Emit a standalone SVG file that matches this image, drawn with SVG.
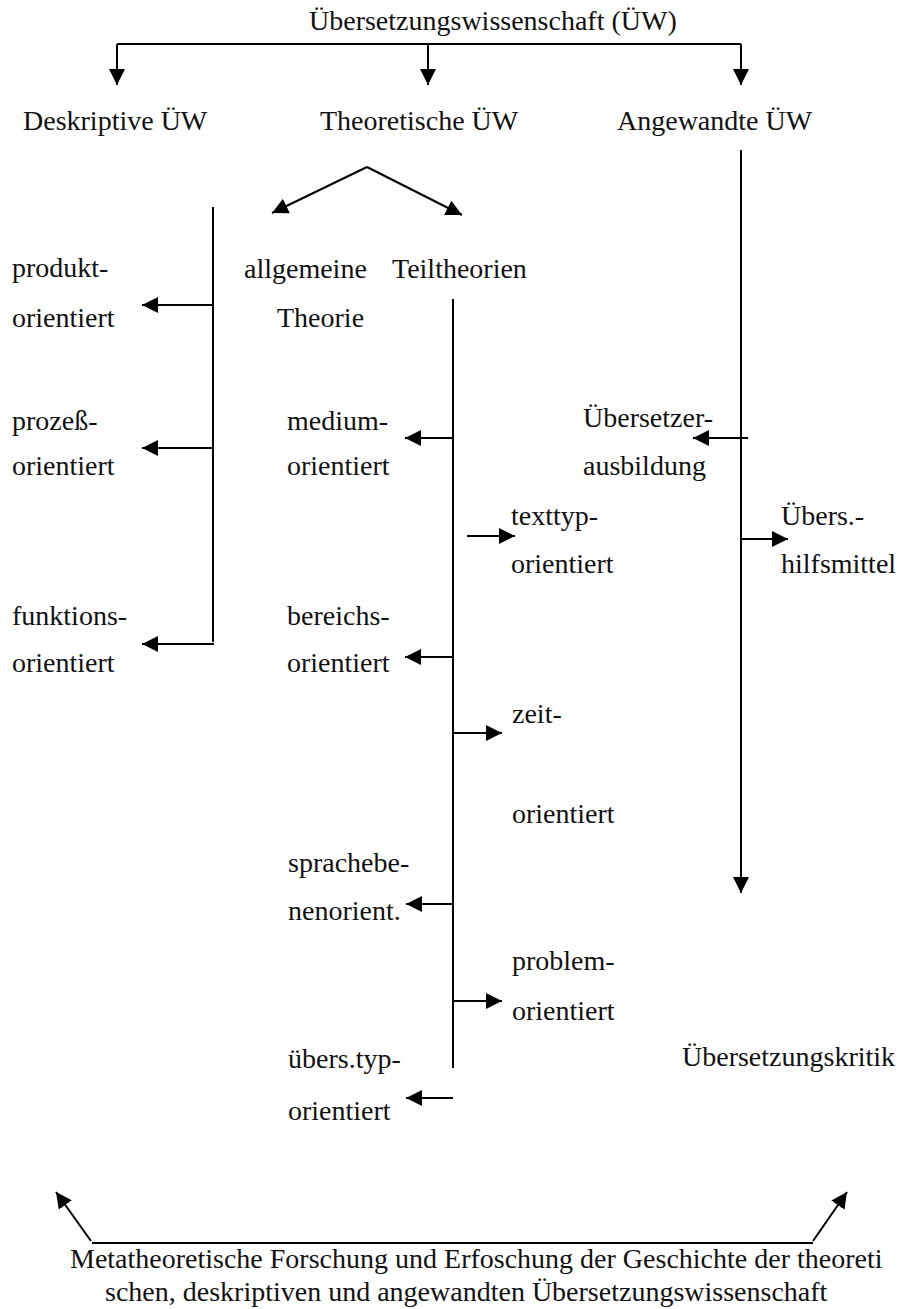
<svg xmlns="http://www.w3.org/2000/svg" width="900" height="1309" viewBox="0 0 900 1309" font-family="'Liberation Serif', 'Times New Roman', serif" font-size="28">
<style>
text{font-family:'Liberation Serif','Times New Roman',serif;font-size:28px;fill:#111}
.c path{fill:none;stroke:#000;stroke-width:2}
.a{marker-end:url(#ah)}
</style>
<defs>
<marker id="ah" markerUnits="userSpaceOnUse" markerWidth="17" markerHeight="16" refX="16" refY="8" orient="auto" viewBox="0 0 17 16">
<path d="M0,0 L16,8 L0,16 z" fill="#000"/>
</marker>
</defs>
<rect width="900" height="1309" fill="#fff"/>
<g class="c" id="connectors">
<path d="M117,44 H741"/>
<path class="a" d="M117,44 V85"/>
<path class="a" d="M428,44 V85"/>
<path class="a" d="M741,44 V85"/>
<path class="a" d="M367,167 L272,213"/>
<path class="a" d="M367,167 L462,215"/>
<path d="M213,207 V642"/>
<path class="a" d="M213,305 H142"/>
<path class="a" d="M213,448 H142"/>
<path class="a" d="M214,644 H142"/>
<path d="M453,299 V1068"/>
<path class="a" d="M453,438 H405"/>
<path class="a" d="M467,536 H515"/>
<path class="a" d="M453,657 H405"/>
<path class="a" d="M453,733 H502"/>
<path class="a" d="M453,904 H406"/>
<path class="a" d="M453,1001 H502"/>
<path class="a" d="M453,1098 H406"/>
<path class="a" d="M741,150 V893"/>
<path class="a" d="M748,438 H693"/>
<path class="a" d="M741,539 H788"/>
<path d="M92,1243 H813"/>
<path class="a" d="M91,1241 L56,1192"/>
<path class="a" d="M813,1241 L847,1192"/>
</g>
<g id="root"><text x="309" y="30">Übersetzungswissenschaft (ÜW)</text></g>
<g id="deskriptiv"><text x="23" y="130">Deskriptive ÜW</text></g>
<g id="theoretisch"><text x="320" y="130">Theoretische ÜW</text></g>
<g id="angewandt"><text x="617" y="130">Angewandte ÜW</text></g>
<g id="produkt"><text x="12" y="277">produkt-</text><text x="12" y="327">orientiert</text></g>
<g id="prozess"><text x="12" y="430">prozeß-</text><text x="12" y="475">orientiert</text></g>
<g id="funktion"><text x="12" y="625">funktions-</text><text x="12" y="672">orientiert</text></g>
<g id="allgemein"><text x="244" y="278">allgemeine</text><text x="277" y="327">Theorie</text></g>
<g id="teiltheorien"><text x="392" y="278">Teiltheorien</text></g>
<g id="medium"><text x="287" y="430">medium-</text><text x="287" y="475">orientiert</text></g>
<g id="texttyp"><text x="511" y="525">texttyp-</text><text x="511" y="573">orientiert</text></g>
<g id="bereich"><text x="287" y="625">bereichs-</text><text x="287" y="672">orientiert</text></g>
<g id="zeit"><text x="512" y="723">zeit-</text><text x="512" y="823">orientiert</text></g>
<g id="sprachebene"><text x="288" y="872">sprachebe-</text><text x="288" y="920">nenorient.</text></g>
<g id="problem"><text x="512" y="970">problem-</text><text x="512" y="1020">orientiert</text></g>
<g id="uebersetzungstyp"><text x="288" y="1068">übers.typ-</text><text x="288" y="1120">orientiert</text></g>
<g id="ausbildung"><text x="583" y="427">Übersetzer-</text><text x="583" y="475">ausbildung</text></g>
<g id="hilfsmittel"><text x="781" y="525">Übers.-</text><text x="781" y="573">hilfsmittel</text></g>
<g id="kritik"><text x="682" y="1066">Übersetzungskritik</text></g>
<g id="meta"><text x="70" y="1268">Metatheoretische Forschung und Erfoschung der Geschichte der theoreti</text><text x="105" y="1301">schen, deskriptiven und angewandten Übersetzungswissenschaft</text></g>
</svg>
